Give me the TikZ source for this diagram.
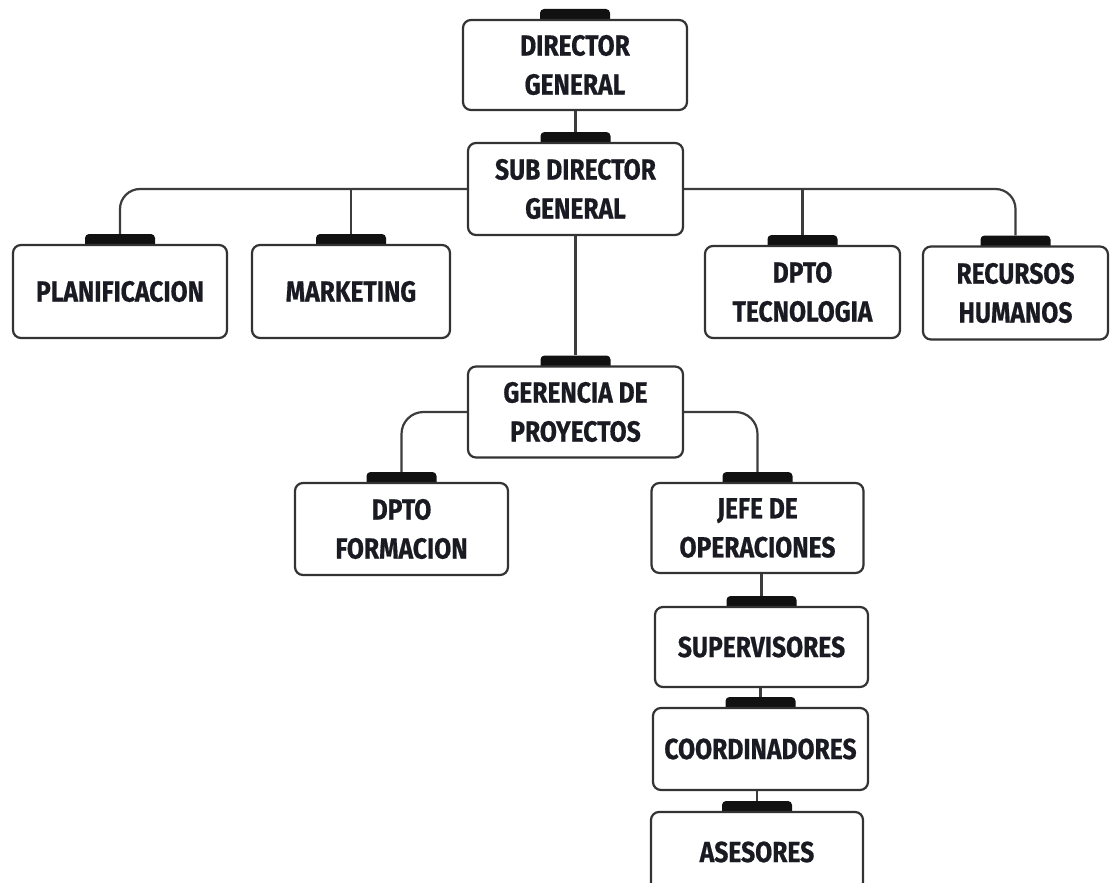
\documentclass[tikz,border=0pt]{standalone}
\usepackage{fontspec}
\newfontfamily\lblfont{Fira Sans}[FakeStretch=0.85, BoldFeatures={FakeBold=0.6}]
\definecolor{bordc}{HTML}{333333}
\definecolor{linec}{HTML}{3C3C3C}
\definecolor{tabc}{HTML}{111111}
\definecolor{txtc}{HTML}{1A1A22}
\newcommand\obox[6]{%
  \node[tabbox] (#1t) at (#2,{#3-#5/2-3}) {};
  \node[box, minimum width=#4pt, minimum height=#5pt] (#1) at (#2,#3) {#6};
}
\begin{document}
\begin{tikzpicture}[x=1pt,y=-1pt,
  box/.style={draw=bordc, line width=2.2pt, rounded corners=8pt, fill=white,
    align=center, inner sep=0pt, text=txtc,
    font=\lblfont\bfseries\fontsize{29}{39}\selectfont},
  tabbox/.style={fill=tabc, rounded corners=4pt, minimum width=70pt,
    minimum height=16pt, inner sep=0pt},
  link/.style={draw=linec, line width=2.2pt}]
\useasboundingbox[fill=white] (0,0) rectangle (1111,883);

\obox{dg}{575}{65}{224}{90}{DIRECTOR\\GENERAL}
\obox{sdg}{575.5}{189}{215}{92}{SUB DIRECTOR\\GENERAL}
\obox{plan}{120}{291.5}{214}{93}{PLANIFICACION}
\obox{mkt}{351}{291.5}{198}{93}{MARKETING}
\obox{tec}{802.5}{292}{195}{92}{DPTO\\TECNOLOGIA}
\obox{rh}{1015.5}{293}{185}{93}{RECURSOS\\HUMANOS}
\obox{ger}{575.5}{412}{215}{91}{GERENCIA DE\\PROYECTOS}
\obox{form}{401.5}{529}{213}{92}{DPTO\\FORMACION}
\obox{jefe}{757.5}{528}{212}{90}{JEFE DE\\OPERACIONES}
\obox{sup}{761.5}{647}{213}{80}{SUPERVISORES}
\obox{coord}{760.5}{749}{215}{82}{COORDINADORES}
\obox{ases}{757}{852}{212}{80}{ASESORES}

\draw[link] (sdgt.north) -- (sdgt.north |- dg.south);
\draw[link, rounded corners=20pt] (sdg.west) -| (plant.north);
\draw[link, rounded corners=20pt] (sdg.east) -| (rht.north);
\draw[link] (mktt.north) -- (mktt.north |- sdg.west);
\draw[link] (tect.north) -- (tect.north |- sdg.east);
\draw[link] (gert.north) -- (gert.north |- sdg.south);
\draw[link, rounded corners=22pt] (ger.west) -| (formt.north);
\draw[link, rounded corners=22pt] (ger.east) -| (jefet.north);
\draw[link] (supt.north) -- (supt.north |- jefe.south);
\draw[link] (coordt.north) -- (coordt.north |- sup.south);
\draw[link] (asest.north) -- (asest.north |- coord.south);
\end{tikzpicture}
\end{document}
